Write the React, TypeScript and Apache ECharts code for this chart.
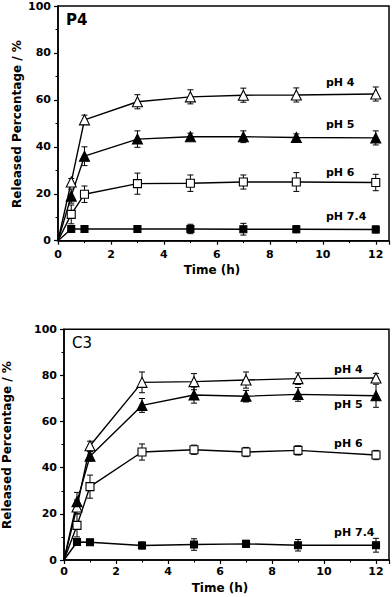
import React, { useEffect, useRef } from "react";
import * as echarts from "echarts";

const times = [0, 0.5, 1, 3, 5, 7, 9, 12];
const xTickLabels = ["0", "2", "4", "6", "8", "10", "12"];
const yTickLabels = ["0", "20", "40", "60", "80", "100"];

// Panel P4
const p4pH4 = [0, 25, 51.5, 59.2, 61.3, 62, 62.1, 62.5];
const p4pH4Err = [0, 1.5, 2, 3, 3, 3, 3, 3];
const p4pH5 = [0, 19, 36, 43.3, 44.3, 44.3, 44, 43.8];
const p4pH5Err = [0, 3, 4, 3.5, 1.5, 2.5, 1.5, 3];
const p4pH6 = [0, 11.2, 19.8, 24.3, 24.5, 25, 25, 24.8];
const p4pH6Err = [0, 4, 3.5, 4.5, 3.5, 3, 4, 3.5];
const p4pH74 = [0, 5, 5, 5, 5, 4.9, 4.9, 4.8];
const p4pH74Err = [0, 0.8, 0.8, 1, 2, 2.5, 1.5, 1.5];

// Panel C3
const c3pH4 = [0, 23, 49.5, 77, 77.3, 78, 78.6, 78.9];
const c3pH4Err = [0, 3, 2, 4.5, 3.5, 3.5, 2.5, 2];
const c3pH5 = [0, 25.3, 45, 67, 71.5, 71, 71.8, 71.2];
const c3pH5Err = [0, 4, 2, 3, 3.5, 2.5, 3, 5];
const c3pH6 = [0, 15, 31.8, 46.8, 47.8, 46.8, 47.5, 45.5];
const c3pH6Err = [0, 5, 5, 3.5, 2, 2, 2, 2];
const c3pH74 = [0, 7.8, 7.7, 6.3, 6.7, 7, 6.4, 6.4];
const c3pH74Err = [0, 1, 1, 1.5, 2.5, 1.5, 2.5, 3];

const seriesNames = ["pH 4", "pH 5", "pH 6", "pH 7.4"];
const p4LabelPos = [[10.1, 67.6], [10.1, 49.3], [10.1, 29.0], [10.1, 10.2]];
const c3LabelPos = [[10.37, 82.4], [10.37, 67.6], [10.37, 50.6], [10.37, 12.0]];

const yTitle = "Released Percentage / %";
const xTitle = "Time (h)";

const FONT = "DejaVu Sans";

const markerStyles = [
  { symbol: "triangle", size: 10, fill: "#fff" },
  { symbol: "triangle", size: 10, fill: "#000" },
  { symbol: "rect", size: 8, fill: "#fff" },
  { symbol: "rect", size: 7, fill: "#000" },
];

function buildPanel(
  idx: number,
  values: number[][],
  errs: number[][],
  labelPos: number[][]
) {
  const series: any[] = [];
  values.forEach((vals, s) => {
    const m = markerStyles[s];
    series.push({
      type: "custom",
      xAxisIndex: idx,
      yAxisIndex: idx,
      z: 2,
      silent: true,
      data: times.map((t, i) => [t, vals[i], errs[s][i]]),
      encode: { x: 0, y: 1 },
      renderItem: (params: any, api: any) => {
        const x = api.value(0);
        const y = api.value(1);
        const e = api.value(2);
        if (!e) return null;
        const top = api.coord([x, y + e]);
        const bot = api.coord([x, y - e]);
        const w = 3;
        const st = { stroke: "#000", lineWidth: 1 };
        return {
          type: "group",
          children: [
            { type: "line", shape: { x1: top[0], y1: top[1], x2: bot[0], y2: bot[1] }, style: st },
            { type: "line", shape: { x1: top[0] - w, y1: top[1], x2: top[0] + w, y2: top[1] }, style: st },
            { type: "line", shape: { x1: bot[0] - w, y1: bot[1], x2: bot[0] + w, y2: bot[1] }, style: st },
          ],
        };
      },
    });
    series.push({
      type: "line",
      name: seriesNames[s],
      xAxisIndex: idx,
      yAxisIndex: idx,
      z: 3,
      symbol: m.symbol,
      symbolSize: m.size,
      showAllSymbol: true,
      lineStyle: { color: "#000", width: 1.4 },
      itemStyle: { color: m.fill, borderColor: "#000", borderWidth: 1.1 },
      data: times.map((t, i) =>
        i === 0 ? { value: [t, vals[i]], symbol: "none" } : { value: [t, vals[i]] }
      ),
    });
  });
  series.push({
    type: "scatter",
    xAxisIndex: idx,
    yAxisIndex: idx,
    z: 4,
    symbolSize: 1,
    silent: true,
    itemStyle: { color: "rgba(0,0,0,0)", opacity: 1 },
    data: labelPos.map((p, i) => ({ name: seriesNames[i], value: p })),
    label: {
      show: true,
      position: "right",
      distance: 0,
      formatter: (p: any) => p.name,
      color: "#000",
      opacity: 1,
      textBorderWidth: 0,
      fontFamily: FONT,
      fontWeight: "bold",
      fontSize: 11,
    },
  });
  return series;
}

function axisPair(idx: number, xLabelMargin: number) {
  const x = {
    type: "value",
    gridIndex: idx,
    min: 0,
    max: 12.5,
    interval: 2,
    axisLine: { show: true, lineStyle: { color: "#000", width: 1.5 } },
    axisTick: { show: true, length: 4, lineStyle: { color: "#000", width: 1.2 } },
    minorTick: { show: true, splitNumber: 2, length: 2.5, lineStyle: { color: "#000", width: 1 } },
    axisLabel: {
      color: "#000",
      fontFamily: FONT,
      fontWeight: "bold",
      fontSize: 11,
      margin: xLabelMargin,
      showMaxLabel: false,
      formatter: (v: number) => {
        const s = String(v);
        return xTickLabels.includes(s) ? s : "";
      },
    },
    splitLine: { show: false },
  };
  const y = {
    type: "value",
    gridIndex: idx,
    min: 0,
    max: 100,
    interval: 20,
    axisLine: { show: true, lineStyle: { color: "#000", width: 1.5 } },
    axisTick: { show: true, length: 4, lineStyle: { color: "#000", width: 1.2 } },
    minorTick: { show: true, splitNumber: 2, length: 2.5, lineStyle: { color: "#000", width: 1 } },
    axisLabel: {
      color: "#000",
      fontFamily: FONT,
      fontWeight: "bold",
      fontSize: 11,
      margin: 7,
      formatter: (v: number) => {
        const s = String(v);
        return yTickLabels.includes(s) ? s : "";
      },
    },
    splitLine: { show: false },
  };
  return { x, y };
}

export default function App() {
  const ref = useRef<HTMLDivElement>(null);
  useEffect(() => {
    if (!ref.current) return;
    const chart = echarts.init(ref.current, undefined, { renderer: "svg" });
    const a0 = axisPair(0, 8);
    const a1 = axisPair(1, 6);
    const titleFont = `bold 12px "${FONT}"`;
    const option: any = {
      animation: false,
      backgroundColor: "#fff",
      grid: [
        { left: 58, top: 6, right: 3, height: 234.7, show: true, borderColor: "#000", borderWidth: 1.5, backgroundColor: "transparent" },
        { left: 64, top: 329.3, right: 3, height: 230.7, show: true, borderColor: "#000", borderWidth: 1.5, backgroundColor: "transparent" },
      ],
      xAxis: [a0.x, a1.x],
      yAxis: [a0.y, a1.y],
      graphic: [
        { type: "text", left: 66, top: 12, style: { text: "P4", font: `bold 15px "${FONT}"`, fill: "#000" } },
        { type: "text", left: 72, top: 335, style: { text: "C3", font: `15px "${FONT}"`, fill: "#000" } },
        { type: "text", x: 17, y: 124, rotation: Math.PI / 2, style: { text: yTitle, font: titleFont, fill: "#000", align: "center", verticalAlign: "middle" } },
        { type: "text", x: 6.5, y: 445, rotation: Math.PI / 2, style: { text: yTitle, font: titleFont, fill: "#000", align: "center", verticalAlign: "middle" } },
        { type: "text", x: 212, y: 270, style: { text: xTitle, font: titleFont, fill: "#000", align: "center", verticalAlign: "middle" } },
        { type: "text", x: 220, y: 588, style: { text: xTitle, font: titleFont, fill: "#000", align: "center", verticalAlign: "middle" } },
      ],
      series: [
        ...buildPanel(0, [p4pH4, p4pH5, p4pH6, p4pH74], [p4pH4Err, p4pH5Err, p4pH6Err, p4pH74Err], p4LabelPos),
        ...buildPanel(1, [c3pH4, c3pH5, c3pH6, c3pH74], [c3pH4Err, c3pH5Err, c3pH6Err, c3pH74Err], c3LabelPos),
      ],
    };
    chart.setOption(option);
    return () => chart.dispose();
  }, []);
  return (
    <div
      ref={ref}
      style={{ position: "fixed", left: 0, top: 0, width: 392, height: 597 }}
    />
  );
}
